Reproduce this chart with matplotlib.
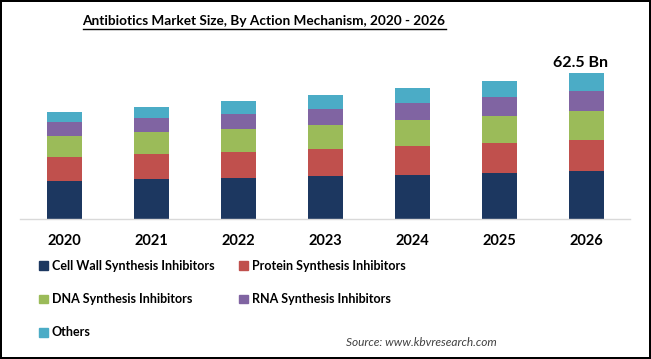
import numpy as np
import matplotlib
matplotlib.use('Agg')
import matplotlib.pyplot as plt
from matplotlib.patches import Patch
from matplotlib.lines import Line2D

# data (USD Bn)
years = ['2020', '2021', '2022', '2023', '2024', '2025', '2026']
segments = ['Cell Wall Synthesis Inhibitors', 'Protein Synthesis Inhibitors',
            'DNA Synthesis Inhibitors', 'RNA Synthesis Inhibitors', 'Others']
cell_wall = [16.3, 17.1, 17.6, 18.4, 18.8, 19.7, 20.5]
protein = [10.3, 10.7, 11.1, 11.6, 12.4, 12.8, 13.3]
dna = [9.0, 9.4, 9.8, 10.3, 11.1, 11.6, 12.4]
rna = [6.0, 6.0, 6.4, 6.8, 7.3, 8.1, 8.6]
others = [4.3, 4.7, 5.6, 6.0, 6.4, 6.8, 7.7]
label_2026 = '62.5 Bn'

colors = ['#1C3760', '#C0504D', '#9BBB59', '#8064A2', '#4BACC6']

plt.rcParams['font.family'] = ['Lato', 'DejaVu Sans']

fig = plt.figure(figsize=(6.51, 3.59), dpi=100)
fig.patch.set_facecolor('white')
fig.patch.set_edgecolor('black')
fig.patch.set_linewidth(1.5)

W, H = 651., 359.
ymax = 70
ax = fig.add_axes([20 / W, 1 - 219 / H, 610 / W, (146 * ymax / 62.5) / H])

x = np.arange(len(years))
bottom = np.zeros(len(years))
for vals, c in zip([cell_wall, protein, dna, rna, others], colors):
    ax.bar(x, vals, width=0.40, bottom=bottom, color=c, linewidth=0)
    bottom += np.array(vals)

ax.annotate(label_2026, (x[-1], bottom[-1]), xytext=(-4, 2),
            textcoords='offset points', ha='center', va='bottom',
            fontsize=11.5, fontweight='bold')

ax.set_xlim(-0.511, 6.5)
ax.set_ylim(0, ymax)
ax.set_xticks(x)
ax.set_xticklabels(years, fontsize=10.5, fontweight='bold')
ax.tick_params(axis='x', length=0, pad=10.5)
ax.set_yticks([])
for s in ['top', 'right', 'left']:
    ax.spines[s].set_visible(False)
ax.spines['bottom'].set_color('#D9D9D9')
ax.spines['bottom'].set_linewidth(1)

# legend, row-major order
handles = [Patch(color=c) for c in colors]
order = [0, 2, 4, 1, 3]
leg = fig.legend([handles[i] for i in order], [segments[i] for i in order],
                 ncol=2, loc='upper left', bbox_to_anchor=(39 / W, 1 - 260 / H),
                 frameon=False, prop={'weight': 'bold', 'size': 9},
                 handlelength=0.7, handleheight=0.7, handletextpad=0.3,
                 labelspacing=1.7, columnspacing=2.0, borderpad=0,
                 borderaxespad=0)

fig.text(497 / W, 1 - 343 / H, 'Source: www.kbvresearch.com', ha='right',
         va='center', fontsize=8.6, style='italic', color='#404040')

title = fig.text(264 / W, 1 - 21 / H,
                 'Antibiotics Market Size, By Action Mechanism, 2020 - 2026',
                 ha='center', va='center', fontsize=9.8, fontweight='bold')

# underline the title
fig.canvas.draw()
bb = title.get_window_extent().transformed(fig.transFigure.inverted())
uy = bb.y0 - 1.5 / H
fig.add_artist(Line2D([bb.x0, bb.x1], [uy, uy], color='black', linewidth=1,
                      transform=fig.transFigure))

fig.savefig('out.png', dpi=100)
